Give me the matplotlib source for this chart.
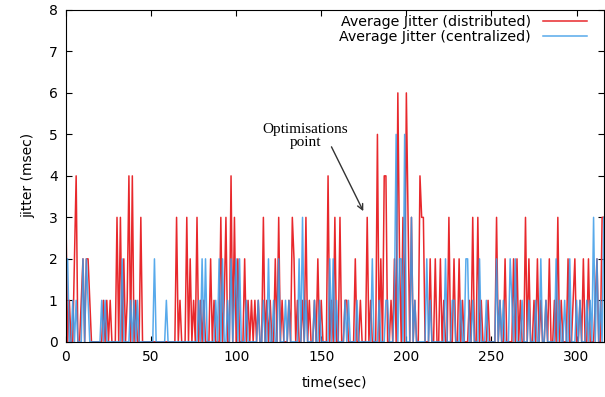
import numpy as np
import matplotlib
matplotlib.use("Agg")
import matplotlib.pyplot as plt

# jitter per second, t = 0..316
distributed = [
    3, 0, 1, 0, 0, 2, 4, 0, 0, 1,
    2, 0, 2, 2, 1, 0, 0, 0, 0, 0,
    0, 0, 1, 0, 1, 0, 1, 0, 0, 0,
    3, 0, 3, 0, 2, 0, 1, 4, 0, 4,
    0, 1, 0, 0, 3, 0, 0, 0, 0, 0,
    0, 0, 0, 0, 0, 0, 0, 0, 0, 0,
    0, 0, 0, 0, 0, 3, 0, 1, 0, 0,
    0, 3, 0, 2, 0, 1, 0, 3, 0, 1,
    0, 1, 0, 0, 0, 2, 0, 1, 0, 0,
    0, 3, 0, 1, 3, 0, 0, 4, 0, 3,
    0, 2, 0, 0, 0, 2, 0, 1, 0, 1,
    0, 1, 0, 1, 0, 0, 3, 0, 1, 0,
    1, 0, 0, 2, 0, 3, 0, 1, 0, 0,
    0, 1, 0, 3, 2, 0, 1, 0, 0, 1,
    0, 3, 0, 1, 0, 0, 1, 0, 2, 0,
    1, 0, 0, 0, 4, 0, 1, 0, 3, 0,
    0, 3, 0, 0, 1, 1, 0, 0, 0, 0,
    2, 0, 0, 1, 0, 0, 0, 3, 0, 1,
    0, 0, 0, 5, 0, 2, 0, 4, 4, 0,
    0, 1, 0, 2, 0, 6, 2, 0, 3, 0,
    6, 3, 0, 3, 0, 1, 0, 0, 4, 3,
    3, 0, 0, 0, 2, 0, 0, 2, 0, 0,
    2, 0, 1, 0, 0, 3, 0, 0, 2, 0,
    0, 2, 0, 1, 0, 0, 0, 1, 0, 3,
    0, 0, 3, 0, 1, 0, 0, 0, 1, 0,
    0, 0, 0, 3, 0, 1, 0, 0, 2, 0,
    0, 0, 0, 2, 0, 2, 0, 1, 0, 0,
    3, 0, 2, 0, 0, 1, 0, 2, 0, 1,
    0, 0, 1, 0, 2, 0, 0, 1, 0, 3,
    0, 1, 0, 0, 0, 2, 0, 0, 1, 2,
    0, 0, 1, 0, 2, 0, 0, 2, 0, 0,
    0, 1, 2, 0, 0, 3, 3,
]

centralized = [
    2, 2, 0, 0, 1, 0, 1, 0, 0, 0,
    2, 0, 2, 1, 0, 0, 0, 0, 0, 0,
    0, 1, 0, 1, 0, 0, 0, 0, 0, 0,
    0, 0, 0, 2, 0, 0, 0, 0, 1, 0,
    1, 0, 1, 0, 0, 0, 0, 0, 0, 0,
    0, 0, 2, 0, 0, 0, 0, 0, 0, 1,
    0, 0, 0, 0, 0, 0, 0, 0, 0, 0,
    0, 0, 0, 0, 0, 0, 0, 0, 1, 0,
    2, 0, 2, 0, 0, 0, 0, 0, 1, 0,
    2, 0, 2, 0, 0, 1, 0, 2, 0, 1,
    2, 0, 2, 0, 0, 0, 1, 0, 0, 0,
    0, 0, 0, 1, 0, 0, 1, 0, 0, 2,
    0, 0, 1, 0, 0, 2, 0, 0, 0, 1,
    0, 1, 0, 0, 0, 0, 0, 2, 0, 3,
    0, 1, 0, 0, 0, 0, 1, 0, 0, 1,
    0, 0, 0, 0, 0, 2, 0, 2, 0, 1,
    0, 0, 0, 0, 1, 0, 1, 0, 0, 0,
    0, 1, 0, 0, 0, 0, 0, 0, 0, 0,
    2, 0, 0, 0, 1, 0, 0, 0, 1, 1,
    0, 0, 0, 1, 5, 0, 2, 2, 0, 5,
    0, 0, 0, 3, 0, 1, 0, 0, 0, 0,
    0, 0, 2, 0, 1, 0, 0, 0, 0, 0,
    0, 0, 0, 2, 0, 0, 0, 1, 1, 0,
    0, 0, 1, 0, 0, 2, 2, 0, 0, 1,
    0, 0, 0, 2, 0, 0, 0, 1, 0, 0,
    0, 0, 0, 2, 0, 1, 0, 1, 0, 0,
    0, 2, 1, 0, 2, 0, 0, 0, 1, 0,
    0, 0, 1, 0, 0, 0, 1, 0, 0, 2,
    0, 0, 1, 0, 0, 0, 0, 0, 2, 0,
    1, 0, 0, 1, 0, 0, 2, 0, 0, 0,
    1, 0, 1, 0, 0, 0, 1, 0, 1, 0,
    3, 0, 2, 0, 1, 0, 3,
]

x_ticks = [0, 50, 100, 150, 200, 250, 300]
y_ticks = [0, 1, 2, 3, 4, 5, 6, 7, 8]

t = np.arange(len(distributed))

fig = plt.figure(figsize=(6.05, 3.97), dpi=100)
ax = fig.add_axes([0.109, 0.139, 0.889, 0.836])

ax.plot(t, distributed, color='#e8282c', lw=1.1, label='Average Jitter (distributed)')
ax.plot(t[:len(centralized)], centralized, color='#3b9be8', lw=1.1, alpha=0.85,
        label='Average Jitter (centralized)')

ax.set_xlim(0, 316)
ax.set_ylim(0, 8)
ax.set_xticks(x_ticks)
ax.set_yticks(y_ticks)
ax.tick_params(direction='in', top=True, right=True, labelsize=10, length=4, pad=6)
ax.set_xlabel('time(sec)', fontsize=10, labelpad=8)
ax.set_ylabel('jitter (msec)', fontsize=10, labelpad=10)

# annotation text and arrow
ax.text(140.5, 4.95, 'Optimisations\npoint', ha='center', va='center',
        family='Liberation Serif', fontsize=11, linespacing=1.0)
ax.annotate('', xy=(174.7, 3.15), xytext=(156, 4.7),
            arrowprops=dict(arrowstyle='->', color='#333333', lw=1.0,
                            shrinkA=0, shrinkB=0))

leg = ax.legend(loc='upper right', frameon=False, markerfirst=False, fontsize=10.3,
                handlelength=3.1, borderaxespad=0.1, labelspacing=0.05,
                bbox_to_anchor=(0.982, 1.005))

fig.savefig('out.png', dpi=100)
